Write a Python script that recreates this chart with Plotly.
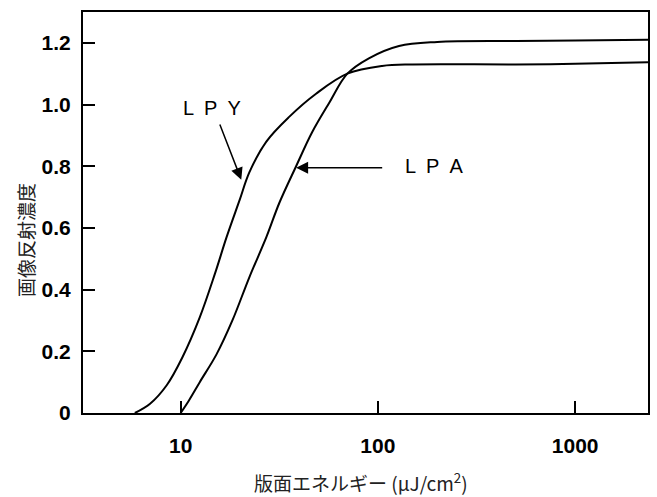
import numpy as np
import plotly.graph_objects as go

# Data
lpy_x = [5.86, 7.0, 8.5, 10.2, 12.5, 14.9, 17.1, 19.9, 22.3, 27.2, 35.5, 48.6, 70, 105, 150, 500, 1000, 2340]
lpy_y = [0.0, 0.03, 0.09, 0.18, 0.31, 0.45, 0.57, 0.69, 0.78, 0.88, 0.96, 1.035, 1.10, 1.125, 1.13, 1.13, 1.132, 1.137]

lpa_x = [10, 11, 12.5, 15.2, 18.3, 22.3, 27.2, 31.6, 38.5, 46.4, 56.6, 70, 90, 128, 200, 500, 1000, 2340]
lpa_y = [0.0, 0.04, 0.10, 0.19, 0.30, 0.44, 0.57, 0.68, 0.80, 0.91, 1.005, 1.10, 1.15, 1.19, 1.203, 1.206, 1.208, 1.21]

x_tickvals = [10, 100, 1000]
x_ticktext = ["10", "100", "1000"]
y_tickvals = [0, 0.2, 0.4, 0.6, 0.8, 1.0, 1.2]
y_ticktext = ["0", "0.2", "0.4", "0.6", "0.8", "1.0", "1.2"]

x_title = "版面エネルギー (μJ/cm<sup>2</sup>)"
y_title = "画像反射濃度"

fig = go.Figure()
fig.add_trace(go.Scatter(x=lpy_x, y=lpy_y, mode="lines", name="LPY",
                         line=dict(color="black", width=2, shape="spline", smoothing=1.0)))
fig.add_trace(go.Scatter(x=lpa_x, y=lpa_y, mode="lines", name="LPA",
                         line=dict(color="black", width=2, shape="spline", smoothing=1.0)))

tickfont = dict(family="Liberation Sans, Arial", size=21, color="black", weight="bold")

fig.update_xaxes(type="log", range=[np.log10(3.2), np.log10(2340)],
                 tickvals=x_tickvals, ticktext=x_ticktext,
                 ticks="inside", ticklen=12, tickwidth=2, tickcolor="black",
                 showline=True, linecolor="black", linewidth=2, mirror=True,
                 showgrid=False, zeroline=False, tickfont=tickfont,
                 ticklabelstandoff=13)
fig.update_yaxes(range=[0, 1.3],
                 tickvals=y_tickvals, ticktext=y_ticktext,
                 ticks="inside", ticklen=12, tickwidth=2, tickcolor="black",
                 showline=True, linecolor="black", linewidth=2, mirror=True,
                 showgrid=False, zeroline=False, tickfont=tickfont,
                 ticklabelstandoff=6)

labfont = dict(family="Liberation Sans, Arial", size=20, color="black")
sp = "\u2002"
# LPY label and arrow
fig.add_annotation(x=np.log10(14.4), y=0.99, text=sp.join("LPY"), showarrow=False,
                   font=labfont, xanchor="center", yanchor="middle")
fig.add_annotation(x=np.log10(20.3), y=0.756, ax=np.log10(15.7), ay=0.94,
                   axref="x", ayref="y", text="", showarrow=True,
                   arrowhead=2, arrowsize=1.6, arrowwidth=1.5, arrowcolor="black")
# LPA label and arrow
fig.add_annotation(x=np.log10(192), y=0.80, text=sp.join("LPA"), showarrow=False,
                   font=labfont, xanchor="center", yanchor="middle")
fig.add_annotation(x=np.log10(38.5), y=0.795, ax=np.log10(107), ay=0.795,
                   axref="x", ayref="y", text="", showarrow=True,
                   arrowhead=2, arrowsize=1.6, arrowwidth=1.5, arrowcolor="black")

titlefont = dict(family="Noto Sans CJK JP, Liberation Sans", size=19, color="#222222")
fig.add_annotation(xref="paper", yref="paper", x=0, y=(413 - 240) / 401,
                   text=y_title, textangle=-90, showarrow=False, font=titlefont,
                   xanchor="center", yanchor="middle", xshift=-58)
fig.add_annotation(xref="paper", yref="paper", x=(362 - 83) / 567, y=0,
                   text=x_title, showarrow=False, font=titlefont,
                   xanchor="center", yanchor="middle", yshift=-69)

fig.update_layout(width=657, height=497,
                  margin=dict(l=83, r=7, t=12, b=84),
                  paper_bgcolor="white", plot_bgcolor="white",
                  showlegend=False)

fig.write_html("out.html")
